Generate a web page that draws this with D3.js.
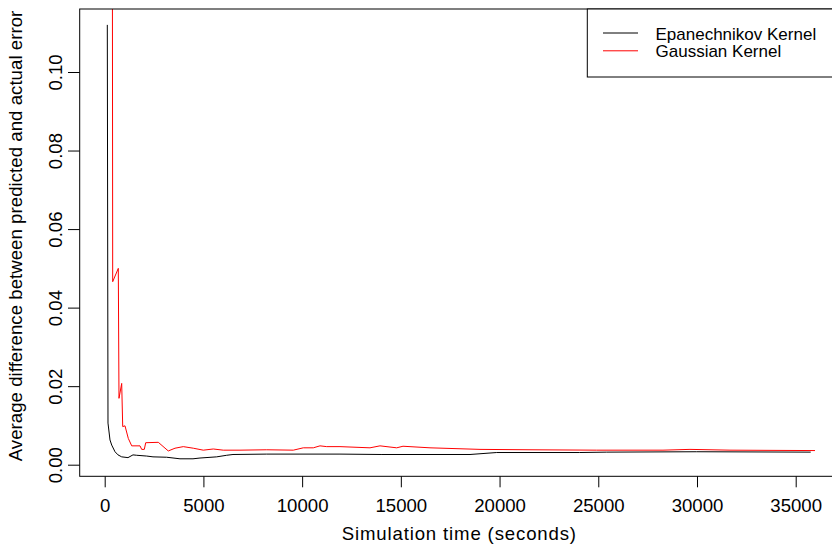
<!DOCTYPE html>
<html>
<head>
<meta charset="utf-8">
<script src="https://d3js.org/d3.v7.min.js"></script>
<style>
  body { margin:0; background:#fff; }
  svg { display:block; font-family:"Liberation Sans", Arial, sans-serif; }
  .tick text { font-size:18.6px; fill:#000; }
</style>
</head>
<body>
<svg width="832" height="546"></svg>
<script>
// Epanechnikov kernel series (seconds, avg difference)
var epanTime  = [132, 167, 268, 355, 522, 674, 861, 1180, 1433, 1621, 2127, 2446, 3140, 3814, 4472, 4827,
                 5673, 6180, 6498, 8205, 9892, 11918, 14000, 18503, 19856, 24059, 25427, 29985, 35760];
var epanValue = [0.1120, 0.0106, 0.0063, 0.0050, 0.0033, 0.0025, 0.0020, 0.0018, 0.0025, 0.0024, 0.0022,
                 0.0020, 0.0019, 0.0015, 0.0015, 0.0017, 0.0020, 0.0024, 0.0026, 0.0027, 0.0027, 0.0027,
                 0.0026, 0.0026, 0.0031, 0.0031, 0.0032, 0.0033, 0.0032];

// Gaussian kernel series
var gaussTime  = [385, 405, 689, 724, 861, 912, 1028, 1195, 1368, 1788, 1874, 2006, 2077, 2715, 3221, 3561,
                  3981, 4488, 4994, 5501, 6007, 6853, 8205, 9553, 10059, 10566, 10905, 11244, 11918, 13437,
                  13944, 14790, 15109, 16477, 19010, 21542, 24920, 28278, 29646, 31672, 35977];
var gaussValue = [0.15, 0.0466, 0.0500, 0.0169, 0.0207, 0.0097, 0.0099, 0.0067, 0.0048, 0.0048, 0.0039,
                  0.0039, 0.0056, 0.0057, 0.0035, 0.0042, 0.0046, 0.0042, 0.0037, 0.0040, 0.0037, 0.0037,
                  0.0038, 0.0037, 0.0043, 0.0043, 0.0048, 0.0046, 0.0046, 0.0043, 0.0048, 0.0043, 0.0047,
                  0.0043, 0.0039, 0.0038, 0.0037, 0.0037, 0.0039, 0.0037, 0.0036];

var xTicks = [0, 5000, 10000, 15000, 20000, 25000, 30000, 35000];
var yTicks = [0, 0.02, 0.04, 0.06, 0.08, 0.10];
var seriesNames  = ["Epanechnikov Kernel", "Gaussian Kernel"];
var seriesColors = ["black", "red"];

var svg  = d3.select("svg"),
    box  = {left:79.7, right:839, top:9, bottom:476.3};

var x = d3.scaleLinear()
          .domain([0, 35000])
          .range([104.7, 795.7]);

var y = d3.scaleLinear()
          .domain([0, 0.1])
          .range([464.7, 72]);

//Clip lines to the plot region
svg.append("clipPath").attr("id","plotclip")
   .append("rect")
     .attr("x", box.left).attr("y", box.top)
     .attr("width", box.right-box.left).attr("height", box.bottom-box.top);

var line = d3.line()
             .x(d => x(d[0]))
             .y(d => y(d[1]));

var series = [d3.zip(epanTime, epanValue), d3.zip(gaussTime, gaussValue)];

svg.append("g")
   .attr("clip-path","url(#plotclip)")
   .selectAll(".series")
   .data(series)
   .enter().append("path")
     .attr("class","series")
     .attr("d", line)
     .attr("fill","none")
     .attr("stroke", (d,i) => seriesColors[i])
     .attr("stroke-width", 1);

//Axes
var xAxis = svg.append("g")
     .attr("transform","translate(0," + box.bottom + ")")
     .call(d3.axisBottom(x).tickValues(xTicks).tickSize(11).tickPadding(6).tickFormat(d3.format("d")));
xAxis.select(".domain").remove();
xAxis.selectAll(".tick text").attr("dy", null).attr("y", 35.4);

var yAxis = svg.append("g")
     .attr("transform","translate(" + box.left + ",0)")
     .call(d3.axisLeft(y).tickValues(yTicks).tickSize(11.7).tickFormat(d3.format(".2f")));
yAxis.select(".domain").remove();
yAxis.selectAll(".tick text")
     .attr("x", null).attr("dy", null)
     .attr("text-anchor","middle")
     .attr("transform","translate(-17.7,0) rotate(-90)");

//Plot box
svg.append("rect")
   .attr("x", box.left).attr("y", box.top)
   .attr("width", box.right-box.left).attr("height", box.bottom-box.top)
   .attr("fill","none").attr("stroke","black").attr("stroke-width",1);

//Axis titles
svg.append("text")
   .attr("x", (box.left+box.right)/2)
   .attr("y", 540)
   .attr("text-anchor","middle")
   .style("font-size","18.6px")
   .style("letter-spacing","0.85px")
   .text("Simulation time (seconds)");

svg.append("text")
   .attr("transform","translate(22,236) rotate(-90)")
   .attr("text-anchor","middle")
   .style("font-size","18.6px")
   .style("letter-spacing","0.05px")
   .text("Average difference between predicted and actual error");

//Legend
var legend = svg.append("g");
legend.append("rect")
      .attr("x", 587.3).attr("y", box.top)
      .attr("width", box.right-587.3).attr("height", 68)
      .attr("fill","white").attr("stroke","black");

var rows = legend.selectAll(".row")
      .data(seriesNames)
      .enter().append("g")
        .attr("class","row")
        .attr("transform", (d,i) => "translate(0," + (33 + i*17.8) + ")");
rows.append("line")
    .attr("x1", 603).attr("x2", 638)
    .attr("stroke", (d,i) => seriesColors[i]);
rows.append("text")
    .attr("x", 655.5).attr("y", 6.5)
    .style("font-size","17px")
    .text(d => d);
</script>
</body>
</html>
